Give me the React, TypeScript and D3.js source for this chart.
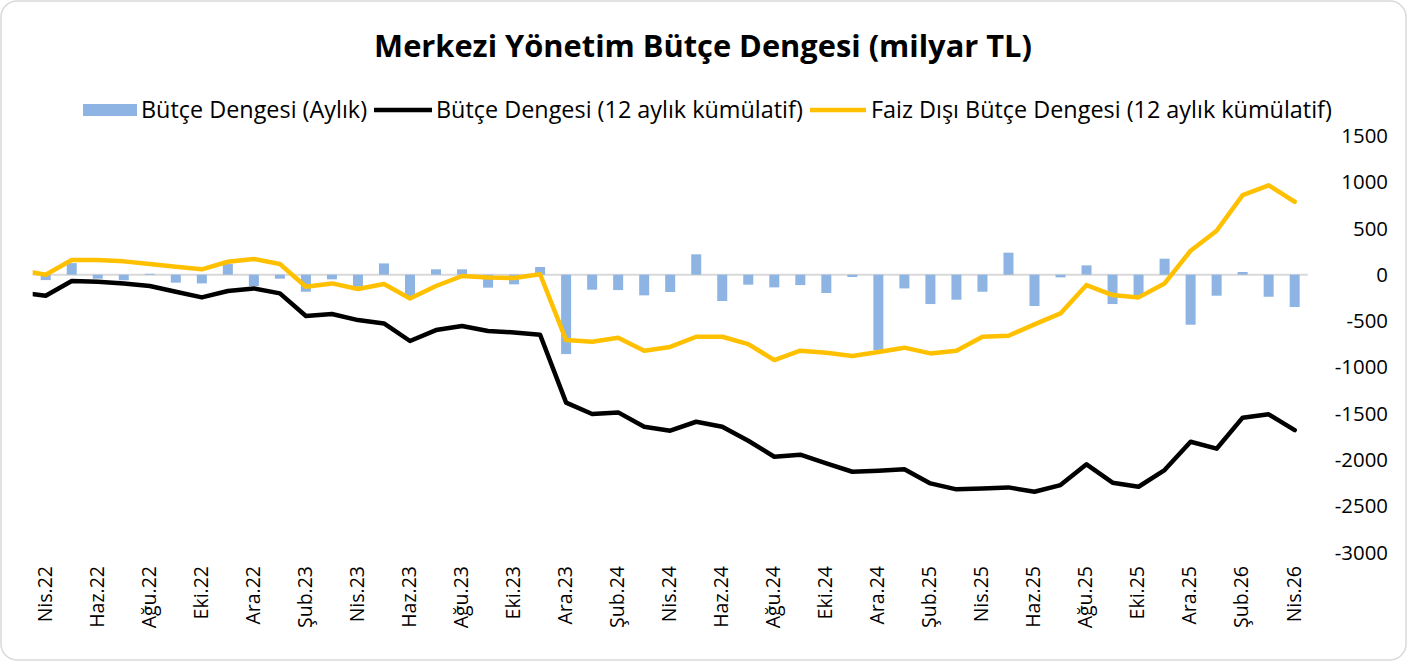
import React from "react";
import * as d3 from "d3";

const categories = [
  "Nis.22","May.22","Haz.22","Tem.22","Ağu.22","Eyl.22","Eki.22","Kas.22","Ara.22",
  "Oca.23","Şub.23","Mar.23","Nis.23","May.23","Haz.23","Tem.23","Ağu.23","Eyl.23","Eki.23","Kas.23","Ara.23",
  "Oca.24","Şub.24","Mar.24","Nis.24","May.24","Haz.24","Tem.24","Ağu.24","Eyl.24","Eki.24","Kas.24","Ara.24",
  "Oca.25","Şub.25","Mar.25","Nis.25","May.25","Haz.25","Tem.25","Ağu.25","Eyl.25","Eki.25","Kas.25","Ara.25",
  "Oca.26","Şub.26","Mar.26","Nis.26",
];

// monthly balance (bars)
const monthlyBalance = [
  -58, 125, -43, -60, 10, -86, -94, 115, -122, -43,
  -184, -50, -130, 122, -230, 58, 58, -140, -104, 83,
  -857, -162, -166, -223, -187, 220, -284, -108, -137, -112,
  -198, -25, -814, -148, -317, -270, -184, 238, -338, -29,
  101, -317, -240, 173, -540, -227, 29, -238, -349,
];

// 12-month cumulative balance (black line)
const cumulativeBalance = [
  -227, -68, -76, -94, -122, -184, -245, -176, -148, -202,
  -446, -425, -490, -526, -716, -598, -554, -608, -623, -648,
  -1382, -1505, -1487, -1642, -1685, -1588, -1642, -1793, -1966, -1944,
  -2038, -2128, -2117, -2102, -2254, -2318, -2308, -2297, -2344, -2272,
  -2048, -2246, -2290, -2110, -1804, -1879, -1544, -1508, -1678,
];

// 12-month cumulative primary balance (yellow line)
const primaryBalance = [
  0, 158, 158, 144, 115, 86, 58, 140, 169, 115,
  -130, -94, -155, -101, -256, -122, -14, -29, -36, 5,
  -706, -724, -680, -821, -780, -670, -670, -749, -922, -821,
  -842, -878, -835, -788, -850, -821, -670, -659, -536, -418,
  -112, -220, -245, -94, 259, 475, 860, 965, 788,
];

// values of the month before the first category (Mar.22), only partly visible at the plot edge
const priorCumulative = -190;
const priorPrimary = 50;

const yTicks = [1500, 1000, 500, 0, -500, -1000, -1500, -2000, -2500, -3000];

const title = "Merkezi Yönetim Bütçe Dengesi (milyar TL)";
const legendLabels = [
  "Bütçe Dengesi (Aylık)",
  "Bütçe Dengesi (12 aylık kümülatif)",
  "Faiz Dışı Bütçe Dengesi (12 aylık kümülatif)",
];

const W = 1409;
const H = 662;
const FONT = "'Open Sans', 'Noto Sans', sans-serif";

export default function App() {
  const plotLeft = 32.7;
  const plotRight = 1307.7;
  const x = d3.scaleBand<string>().domain(categories).range([plotLeft, plotRight]).paddingInner(0).paddingOuter(0);
  const step = x.step();
  const cx = (i: number) => plotLeft + step * (i + 0.5);
  const y = d3.scaleLinear().domain([-3000, 1500]).range([552.5, 135.8]);

  const barW = 10;

  const linePts = (prior: number, vals: number[]): [number, number][] => [
    [cx(-1), y(prior)],
    ...vals.map((v, i) => [cx(i), y(v)] as [number, number]),
  ];
  const lineGen = d3.line<[number, number]>().x((d) => d[0]).y((d) => d[1]);

  const blue = "#8EB4E3";
  const yellow = "#FFC000";

  return (
    <svg width={W} height={H} style={{ position: "absolute", left: 0, top: 0, background: "#fff" }} fontFamily={FONT}>
      <defs>
        <clipPath id="plotClip">
          <rect x={plotLeft} y={0} width={plotRight - plotLeft} height={H} />
        </clipPath>
      </defs>
      <rect x={1} y={1} width={W - 4} height={H - 3} rx={16} ry={16} fill="#fff" stroke="#d9d9d9" strokeWidth={1.5} />

      <text x={703} y={57} textAnchor="middle" fontSize={30.8} fontWeight={700} fill="#000">
        {title}
      </text>

      {/* legend */}
      <g fontSize={23.4} fill="#000">
        <rect x={83} y={104} width={54} height={12} fill={blue} />
        <text x={141} y={118}>{legendLabels[0]}</text>
        <line x1={374} x2={432} y1={110} y2={110} stroke="#000" strokeWidth={4.5} />
        <text x={436} y={118}>{legendLabels[1]}</text>
        <line x1={810} x2={866} y1={110} y2={110} stroke={yellow} strokeWidth={4.5} />
        <text x={871} y={118}>{legendLabels[2]}</text>
      </g>

      {/* zero line */}
      <line x1={plotLeft} x2={plotRight} y1={y(0)} y2={y(0)} stroke="#d9d9d9" strokeWidth={2} />

      {/* bars */}
      <g>
        {monthlyBalance.map((v, i) => (
          <rect
            key={i}
            x={cx(i) - barW / 2}
            y={Math.min(y(v), y(0))}
            width={barW}
            height={Math.abs(y(v) - y(0))}
            fill={blue}
          />
        ))}
      </g>

      {/* lines */}
      <g clipPath="url(#plotClip)">
        <path d={lineGen(linePts(priorPrimary, primaryBalance)) || ""} fill="none" stroke={yellow} strokeWidth={4.5} strokeLinejoin="round" strokeLinecap="round" />
        <path d={lineGen(linePts(priorCumulative, cumulativeBalance)) || ""} fill="none" stroke="#000" strokeWidth={4.5} strokeLinejoin="round" strokeLinecap="round" />
      </g>

      {/* y axis (right) */}
      <g fontSize={20.4} fill="#000">
        {yTicks.map((t) => (
          <text key={t} x={1388} y={y(t)} dy="0.35em" textAnchor="end">
            {t}
          </text>
        ))}
      </g>

      {/* x axis labels */}
      <g fontSize={19.5} fill="#000">
        {categories.map((c, i) =>
          i % 2 === 0 ? (
            <text key={c} transform={`translate(${cx(i) - 1},566) rotate(-90)`} textAnchor="end" dy="0.35em">
              {c}
            </text>
          ) : null
        )}
      </g>
    </svg>
  );
}
